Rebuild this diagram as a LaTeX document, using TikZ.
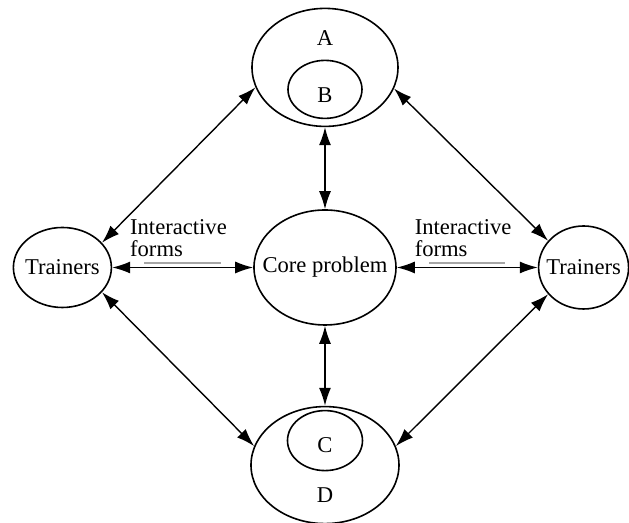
\documentclass[tikz,border=0pt]{standalone}
\usepackage{fontspec}
\setmainfont{Liberation Serif}
\usepackage{tikz}
\usetikzlibrary{positioning, calc, shapes.geometric, arrows.meta}
\tikzstyle{Arrow} = [
line width=0.7pt,
{Latex[length=9pt,width=6pt]}-{Latex[length=9pt,width=6pt]}]
\tikzstyle{Bubble} = [draw, ellipse, line width=0.8pt,
inner xsep=-10pt, inner ysep=0pt]

\begin{document}
\begin{tikzpicture}[font=\rmfamily\fontsize{11.3}{11}\selectfont]
    \useasboundingbox (-162.5pt,-127.75pt) rectangle (152pt,133.75pt);
    \node [Bubble, minimum width=71pt, minimum height=57.5pt] (core) {Core problem};
    \node [Bubble, minimum width=73pt, minimum height=59pt, above=41pt of core] (A) {};
    \node [Bubble, minimum width=37pt, minimum height=29pt, text height=13pt, above=4pt of A.south] (B) {B};
    \node [above=3.5pt of B] (a) {A};
    \node [Bubble, minimum width=74pt, minimum height=58.5pt, below=40pt of core] (D) {};
    \node [Bubble, minimum width=37.5pt, minimum height=30pt, text height=12pt, below=2pt of D.north] (C) {C};
    \node [below=4.5pt of C] (d) {D};
    \node [Bubble, minimum width=49pt, minimum height=40pt, left=70.5pt of core] (trL) {Trainers};
    \node [Bubble, minimum width=45pt, minimum height=41.5pt, right=70.5pt of core] (trR) {Trainers};

    \draw[Arrow] (A.south)--(core.north);
    \draw[Arrow] (core.south)--(D.north);
    \draw[Arrow] (trL.east)-- node[above=1.5pt, pos=0.47, align=left] (formsL) {Interactive\\forms} (core.west);
    \draw[Arrow] (core.east)-- node[above=1.5pt, pos=0.47, align=left] (formsR) {Interactive\\forms} (trR.west);
    \draw[Arrow] (trL.32)--(A.196);
    \draw[Arrow] (A.-17)--(trR.143);
    \draw[Arrow] (trL.-32)--(D.165);
    \draw[Arrow] (D.15)--(trR.217);
    \draw[gray!70, line width=0.8pt] ([xshift=10.75pt, yshift=0.75pt]formsL.south west)--([xshift=-6.75pt, yshift=0.75pt]formsL.south east);
    \draw[gray!70, line width=0.8pt] ([xshift=10.75pt, yshift=0.75pt]formsR.south west)--([xshift=-6.75pt, yshift=0.75pt]formsR.south east);
\end{tikzpicture}
\end{document}
